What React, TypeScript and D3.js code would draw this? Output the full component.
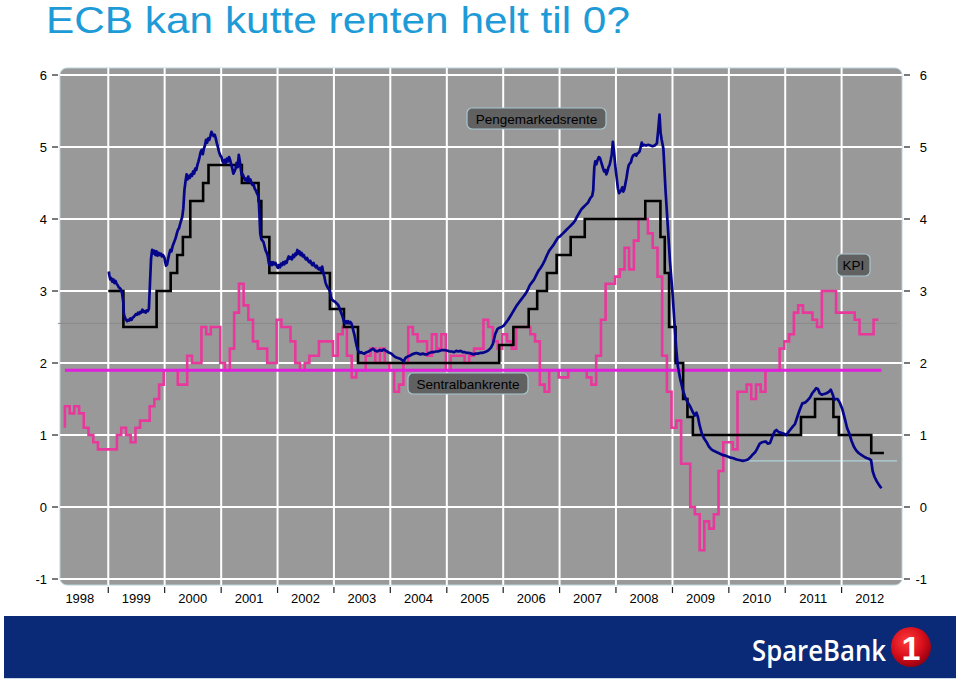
import React from "react";
import * as d3 from "d3";

const W = 960;
const H = 681;

// ---------- data ----------
const yTicks = [-1, 0, 1, 2, 3, 4, 5, 6];
const yearLabels = [1998, 1999, 2000, 2001, 2002, 2003, 2004, 2005, 2006, 2007, 2008, 2009, 2010, 2011, 2012];
const yearLines = [1999, 2000, 2001, 2002, 2003, 2004, 2005, 2006, 2007, 2008, 2009, 2010, 2011, 2012];

// KPI (monthly, from March 1998 to August 2012)
const kpiStartYear = 1998;
const kpiStartMonth = 2; // March
const kpiValues = [
  1.1, 1.4, 1.3, 1.4, 1.3, 1.1, 1.0, 0.9, 0.8, 0.8,
  0.8, 0.8, 1.0, 1.1, 1.0, 0.9, 1.1, 1.2, 1.2, 1.4, 1.5, 1.7,
  1.9, 1.9, 1.9, 1.7, 1.7, 2.1, 2.0, 2.0, 2.5, 2.4, 2.5, 2.5,
  2.0, 1.9, 2.2, 2.7, 3.1, 2.8, 2.6, 2.3, 2.2, 2.2, 2.0, 2.0,
  2.6, 2.5, 2.5, 2.3, 2.0, 1.9, 2.0, 2.1, 2.1, 2.3, 2.3, 2.3,
  2.1, 2.4, 2.5, 2.1, 1.8, 1.9, 1.9, 2.1, 2.2, 2.0, 2.2, 2.0,
  1.9, 1.6, 1.7, 2.0, 2.5, 2.4, 2.3, 2.3, 2.1, 2.4, 2.2, 2.4,
  1.9, 2.1, 2.1, 2.1, 2.0, 2.1, 2.2, 2.2, 2.6, 2.5, 2.3, 2.2,
  2.4, 2.3, 2.2, 2.5, 2.5, 2.5, 2.4, 2.3, 1.7, 1.6, 1.9, 1.9,
  1.8, 1.8, 1.9, 1.9, 1.9, 1.9, 1.8, 1.7, 2.1, 2.6, 3.1, 3.1,
  3.2, 3.3, 3.6, 3.3, 3.7, 4.0, 4.0, 3.8, 3.6, 3.2, 2.1, 1.6,
  1.1, 1.2, 0.6, 0.6, 0.0, -0.1, -0.6, -0.2, -0.3, -0.1, 0.5, 0.9,
  0.9, 0.8, 1.6, 1.6, 1.7, 1.5, 1.7, 1.6, 1.9, 1.9, 1.9, 2.2,
  2.3, 2.4, 2.7, 2.8, 2.7, 2.7, 2.6, 2.5, 3.0, 3.0, 3.0, 2.7,
  2.7, 2.7, 2.7, 2.6, 2.4, 2.4, 2.4, 2.6,
];

// Sentralbankrente (date of change, new level)
const policyRate: [string, number][] = [
  ["1999-01-01", 3.0], ["1999-04-09", 2.5], ["1999-11-10", 3.0], ["2000-02-09", 3.25],
  ["2000-03-22", 3.5], ["2000-04-28", 3.75], ["2000-06-15", 4.25], ["2000-09-06", 4.5],
  ["2000-10-11", 4.75], ["2001-05-15", 4.5], ["2001-08-31", 4.25], ["2001-09-18", 3.75],
  ["2001-11-09", 3.25], ["2002-12-06", 2.75], ["2003-03-07", 2.5], ["2003-06-06", 2.0],
  ["2005-12-06", 2.25], ["2006-03-08", 2.5], ["2006-06-15", 2.75], ["2006-08-09", 3.0],
  ["2006-10-11", 3.25], ["2006-12-13", 3.5], ["2007-03-14", 3.75], ["2007-06-13", 4.0],
  ["2008-07-09", 4.25], ["2008-10-15", 3.75], ["2008-11-12", 3.25], ["2008-12-10", 2.5],
  ["2009-01-21", 2.0], ["2009-03-11", 1.5], ["2009-04-08", 1.25], ["2009-05-13", 1.0],
  ["2011-04-13", 1.25], ["2011-07-13", 1.5], ["2011-11-09", 1.25], ["2011-12-14", 1.0],
  ["2012-07-11", 0.75], ["2012-10-01", 0.75],
];

// Pengemarkedsrente
const moneyMarket: [string, number][] = [
  ["1999-01-04", 3.27], ["1999-01-08", 3.22], ["1999-01-14", 3.16], ["1999-01-20", 3.18], ["1999-01-27", 3.13],
  ["1999-02-03", 3.16], ["1999-02-10", 3.11], ["1999-02-17", 3.14], ["1999-02-24", 3.10], ["1999-03-03", 3.08],
  ["1999-03-10", 3.05], ["1999-03-17", 3.04], ["1999-03-24", 3.02], ["1999-03-31", 2.97], ["1999-04-08", 2.85],
  ["1999-04-12", 2.68], ["1999-04-19", 2.63], ["1999-04-26", 2.60], ["1999-05-03", 2.58], ["1999-05-10", 2.60],
  ["1999-05-17", 2.59], ["1999-05-24", 2.62], ["1999-06-01", 2.60], ["1999-06-08", 2.63], ["1999-06-15", 2.64],
  ["1999-06-22", 2.66], ["1999-06-29", 2.68], ["1999-07-06", 2.67], ["1999-07-13", 2.70], ["1999-07-20", 2.68],
  ["1999-07-27", 2.71], ["1999-08-03", 2.70], ["1999-08-10", 2.74], ["1999-08-17", 2.71], ["1999-08-24", 2.72],
  ["1999-08-31", 2.70], ["1999-09-07", 2.73], ["1999-09-14", 2.72], ["1999-09-21", 2.75], ["1999-09-28", 3.10],
  ["1999-10-05", 3.45], ["1999-10-12", 3.57], ["1999-10-19", 3.52], ["1999-10-26", 3.56], ["1999-11-02", 3.50],
  ["1999-11-09", 3.55], ["1999-11-16", 3.49], ["1999-11-23", 3.53], ["1999-11-30", 3.50], ["1999-12-07", 3.52],
  ["1999-12-14", 3.48], ["1999-12-21", 3.50], ["1999-12-31", 3.46],
  ["2000-01-05", 3.40], ["2000-01-10", 3.35], ["2000-01-17", 3.37], ["2000-01-24", 3.45], ["2000-01-31", 3.52],
  ["2000-02-07", 3.57], ["2000-02-14", 3.55], ["2000-02-21", 3.62], ["2000-02-28", 3.66], ["2000-03-06", 3.70],
  ["2000-03-13", 3.74], ["2000-03-20", 3.80], ["2000-03-27", 3.85], ["2000-04-03", 3.87], ["2000-04-10", 3.93],
  ["2000-04-17", 3.98], ["2000-04-24", 4.03], ["2000-05-01", 4.15], ["2000-05-08", 4.40], ["2000-05-15", 4.52],
  ["2000-05-22", 4.62], ["2000-05-29", 4.55], ["2000-06-05", 4.60], ["2000-06-12", 4.57], ["2000-06-19", 4.62],
  ["2000-06-26", 4.60], ["2000-07-03", 4.66], ["2000-07-10", 4.63], ["2000-07-17", 4.70], ["2000-07-24", 4.68],
  ["2000-07-31", 4.75], ["2000-08-07", 4.80], ["2000-08-14", 4.86], ["2000-08-21", 4.93], ["2000-08-28", 4.96],
  ["2000-09-04", 4.90], ["2000-09-11", 4.98], ["2000-09-18", 5.02], ["2000-09-25", 5.10], ["2000-10-02", 5.06],
  ["2000-10-09", 5.12], ["2000-10-16", 5.10], ["2000-10-23", 5.15], ["2000-10-30", 5.21], ["2000-11-06", 5.18],
  ["2000-11-13", 5.15], ["2000-11-20", 5.17], ["2000-11-27", 5.12], ["2000-12-04", 5.05], ["2000-12-11", 5.00],
  ["2000-12-18", 4.93], ["2000-12-27", 4.88],
  ["2001-01-03", 4.86], ["2001-01-10", 4.80], ["2001-01-17", 4.78], ["2001-01-24", 4.82], ["2001-01-31", 4.78],
  ["2001-02-07", 4.84], ["2001-02-14", 4.80], ["2001-02-21", 4.86], ["2001-02-28", 4.82], ["2001-03-07", 4.76],
  ["2001-03-14", 4.70], ["2001-03-21", 4.63], ["2001-03-28", 4.66], ["2001-04-04", 4.70], ["2001-04-11", 4.78],
  ["2001-04-18", 4.72], ["2001-04-25", 4.89], ["2001-05-02", 4.80], ["2001-05-09", 4.68], ["2001-05-14", 4.61],
  ["2001-05-21", 4.62], ["2001-05-28", 4.58], ["2001-06-04", 4.54], ["2001-06-11", 4.56], ["2001-06-18", 4.52],
  ["2001-06-25", 4.59], ["2001-07-02", 4.52], ["2001-07-09", 4.55], ["2001-07-16", 4.50], ["2001-07-23", 4.47],
  ["2001-07-30", 4.48], ["2001-08-06", 4.42], ["2001-08-13", 4.40], ["2001-08-20", 4.36], ["2001-08-27", 4.33],
  ["2001-09-01", 4.28], ["2001-09-05", 4.10], ["2001-09-11", 3.80], ["2001-09-18", 3.72], ["2001-09-25", 3.70],
  ["2001-10-02", 3.68], ["2001-10-09", 3.62], ["2001-10-16", 3.56], ["2001-10-23", 3.53], ["2001-10-30", 3.48],
  ["2001-11-06", 3.38], ["2001-11-13", 3.36], ["2001-11-20", 3.40], ["2001-11-27", 3.36], ["2001-12-04", 3.40],
  ["2001-12-11", 3.37], ["2001-12-18", 3.39], ["2001-12-27", 3.35],
  ["2002-01-03", 3.32], ["2002-01-10", 3.36], ["2002-01-17", 3.33], ["2002-01-24", 3.38], ["2002-01-31", 3.36],
  ["2002-02-07", 3.40], ["2002-02-14", 3.37], ["2002-02-21", 3.41], ["2002-02-28", 3.39], ["2002-03-07", 3.44],
  ["2002-03-14", 3.48], ["2002-03-21", 3.45], ["2002-03-28", 3.47], ["2002-04-04", 3.44], ["2002-04-11", 3.50],
  ["2002-04-18", 3.47], ["2002-04-25", 3.52], ["2002-05-02", 3.50], ["2002-05-09", 3.57], ["2002-05-16", 3.52],
  ["2002-05-23", 3.55], ["2002-05-30", 3.50], ["2002-06-06", 3.53], ["2002-06-13", 3.48], ["2002-06-20", 3.50],
  ["2002-06-27", 3.46], ["2002-07-04", 3.44], ["2002-07-11", 3.46], ["2002-07-18", 3.42], ["2002-07-25", 3.40],
  ["2002-08-01", 3.42], ["2002-08-08", 3.38], ["2002-08-15", 3.36], ["2002-08-22", 3.39], ["2002-08-29", 3.35],
  ["2002-09-05", 3.33], ["2002-09-12", 3.35], ["2002-09-19", 3.31], ["2002-09-26", 3.30], ["2002-10-03", 3.32],
  ["2002-10-10", 3.28], ["2002-10-17", 3.34], ["2002-10-24", 3.25], ["2002-10-31", 3.20], ["2002-11-07", 3.12],
  ["2002-11-14", 3.08], ["2002-11-21", 3.05], ["2002-11-28", 3.03], ["2002-12-05", 3.00], ["2002-12-12", 2.92],
  ["2002-12-19", 2.88], ["2002-12-30", 2.86],
  ["2003-01-09", 2.85], ["2003-01-16", 2.83], ["2003-01-23", 2.82], ["2003-01-30", 2.80], ["2003-02-06", 2.76],
  ["2003-02-13", 2.72], ["2003-02-20", 2.68], ["2003-02-27", 2.64], ["2003-03-06", 2.58], ["2003-03-13", 2.55],
  ["2003-03-20", 2.58], ["2003-03-27", 2.55], ["2003-04-03", 2.58], ["2003-04-10", 2.55], ["2003-04-17", 2.57],
  ["2003-04-24", 2.55], ["2003-05-01", 2.50], ["2003-05-08", 2.44], ["2003-05-15", 2.38], ["2003-05-22", 2.30],
  ["2003-05-29", 2.23], ["2003-06-05", 2.18], ["2003-06-12", 2.15], ["2003-06-19", 2.14], ["2003-06-26", 2.15],
  ["2003-07-03", 2.14], ["2003-07-17", 2.13], ["2003-07-31", 2.15], ["2003-08-14", 2.16], ["2003-08-28", 2.18],
  ["2003-09-11", 2.20], ["2003-09-25", 2.17], ["2003-10-09", 2.16], ["2003-10-23", 2.18], ["2003-11-06", 2.17],
  ["2003-11-20", 2.19], ["2003-12-04", 2.17], ["2003-12-18", 2.15],
  ["2004-01-08", 2.13], ["2004-01-22", 2.10], ["2004-02-05", 2.08], ["2004-02-19", 2.07], ["2004-03-04", 2.06],
  ["2004-03-18", 2.04], ["2004-03-28", 2.02], ["2004-04-08", 2.07], ["2004-04-22", 2.09], ["2004-05-06", 2.10],
  ["2004-05-20", 2.12], ["2004-06-03", 2.13], ["2004-06-17", 2.14], ["2004-07-01", 2.13], ["2004-07-15", 2.12],
  ["2004-07-29", 2.13], ["2004-08-12", 2.12], ["2004-08-26", 2.12], ["2004-09-09", 2.14], ["2004-09-23", 2.15],
  ["2004-10-07", 2.15], ["2004-10-21", 2.16], ["2004-11-04", 2.16], ["2004-11-18", 2.17], ["2004-12-02", 2.18],
  ["2004-12-16", 2.18],
  ["2005-01-06", 2.17], ["2005-01-20", 2.16], ["2005-02-03", 2.16], ["2005-02-17", 2.15], ["2005-03-03", 2.17],
  ["2005-03-17", 2.16], ["2005-03-31", 2.17], ["2005-04-14", 2.15], ["2005-04-28", 2.15], ["2005-05-12", 2.14],
  ["2005-05-26", 2.14], ["2005-06-09", 2.13], ["2005-06-23", 2.12], ["2005-07-07", 2.13], ["2005-07-21", 2.13],
  ["2005-08-04", 2.14], ["2005-08-18", 2.14], ["2005-09-01", 2.15], ["2005-09-15", 2.16], ["2005-09-29", 2.18],
  ["2005-10-13", 2.21], ["2005-10-27", 2.27], ["2005-11-10", 2.40], ["2005-11-24", 2.47], ["2005-12-08", 2.49],
  ["2005-12-22", 2.50],
  ["2006-01-05", 2.52], ["2006-01-19", 2.56], ["2006-02-02", 2.60], ["2006-02-16", 2.65], ["2006-03-02", 2.70],
  ["2006-03-16", 2.75], ["2006-03-30", 2.80], ["2006-04-13", 2.84], ["2006-04-27", 2.88], ["2006-05-11", 2.92],
  ["2006-05-25", 2.96], ["2006-06-08", 3.01], ["2006-06-22", 3.08], ["2006-07-06", 3.12], ["2006-07-20", 3.16],
  ["2006-08-03", 3.22], ["2006-08-17", 3.28], ["2006-08-31", 3.32], ["2006-09-14", 3.37], ["2006-09-28", 3.43],
  ["2006-10-12", 3.50], ["2006-10-26", 3.56], ["2006-11-09", 3.60], ["2006-11-23", 3.64], ["2006-12-07", 3.69],
  ["2006-12-21", 3.74],
  ["2007-01-04", 3.76], ["2007-01-18", 3.79], ["2007-02-01", 3.82], ["2007-02-15", 3.85], ["2007-03-01", 3.88],
  ["2007-03-15", 3.91], ["2007-03-29", 3.94], ["2007-04-12", 3.98], ["2007-04-26", 4.04], ["2007-05-10", 4.09],
  ["2007-05-24", 4.14], ["2007-06-07", 4.17], ["2007-06-21", 4.20], ["2007-07-05", 4.23], ["2007-07-19", 4.29],
  ["2007-07-31", 4.32], ["2007-08-07", 4.40], ["2007-08-10", 4.55], ["2007-08-14", 4.72], ["2007-08-20", 4.80],
  ["2007-08-27", 4.76], ["2007-09-04", 4.82], ["2007-09-12", 4.86], ["2007-09-19", 4.85], ["2007-09-26", 4.80],
  ["2007-10-03", 4.75], ["2007-10-10", 4.70], ["2007-10-17", 4.66], ["2007-10-24", 4.68], ["2007-10-31", 4.62],
  ["2007-11-07", 4.66], ["2007-11-14", 4.72], ["2007-11-21", 4.75], ["2007-11-28", 4.82], ["2007-12-05", 4.90],
  ["2007-12-12", 5.07], ["2007-12-19", 4.95], ["2007-12-27", 4.75],
  ["2008-01-07", 4.55], ["2008-01-14", 4.42], ["2008-01-21", 4.36], ["2008-01-28", 4.38], ["2008-02-04", 4.40],
  ["2008-02-11", 4.44], ["2008-02-18", 4.38], ["2008-02-25", 4.42], ["2008-03-03", 4.50], ["2008-03-10", 4.58],
  ["2008-03-17", 4.68], ["2008-03-24", 4.75], ["2008-03-31", 4.77], ["2008-04-07", 4.79], ["2008-04-14", 4.85],
  ["2008-04-21", 4.88], ["2008-04-28", 4.89], ["2008-05-05", 4.90], ["2008-05-12", 4.88], ["2008-05-19", 4.91],
  ["2008-05-26", 4.92], ["2008-06-02", 4.94], ["2008-06-09", 5.00], ["2008-06-16", 5.06], ["2008-06-23", 5.02],
  ["2008-06-30", 5.03], ["2008-07-14", 5.02], ["2008-07-28", 5.03], ["2008-08-11", 5.02], ["2008-08-25", 5.01],
  ["2008-09-08", 5.02], ["2008-09-22", 5.05], ["2008-09-30", 5.22], ["2008-10-09", 5.45], ["2008-10-16", 5.20],
  ["2008-10-23", 5.10], ["2008-11-03", 4.98], ["2008-11-17", 4.40], ["2008-12-02", 3.89], ["2008-12-16", 3.40],
  ["2009-01-02", 2.95], ["2009-01-14", 2.55], ["2009-01-26", 2.18], ["2009-02-05", 1.95], ["2009-02-20", 1.78],
  ["2009-03-10", 1.62], ["2009-03-25", 1.52], ["2009-04-10", 1.45], ["2009-04-25", 1.40], ["2009-05-10", 1.33],
  ["2009-05-25", 1.27], ["2009-06-05", 1.31], ["2009-06-15", 1.25], ["2009-06-25", 1.14], ["2009-07-10", 1.02],
  ["2009-07-25", 0.95], ["2009-08-10", 0.90], ["2009-08-25", 0.84], ["2009-09-10", 0.80], ["2009-09-25", 0.78],
  ["2009-10-15", 0.76], ["2009-11-05", 0.74], ["2009-11-25", 0.72], ["2009-12-15", 0.71],
  ["2010-01-05", 0.69], ["2010-01-26", 0.68], ["2010-02-20", 0.66], ["2010-03-15", 0.65], ["2010-04-01", 0.64],
  ["2010-04-20", 0.65], ["2010-05-05", 0.66], ["2010-05-20", 0.69], ["2010-06-05", 0.73], ["2010-06-20", 0.76],
  ["2010-07-01", 0.80], ["2010-07-20", 0.88], ["2010-08-05", 0.90], ["2010-08-28", 0.91], ["2010-09-10", 0.88],
  ["2010-09-25", 0.89], ["2010-10-10", 0.98], ["2010-10-25", 1.05], ["2010-11-05", 1.07], ["2010-11-20", 1.04],
  ["2010-12-05", 1.03], ["2010-12-20", 1.02],
  ["2011-01-08", 1.00], ["2011-01-25", 1.05], ["2011-02-05", 1.08], ["2011-02-20", 1.12], ["2011-03-05", 1.15],
  ["2011-03-20", 1.25], ["2011-04-05", 1.35], ["2011-04-22", 1.44], ["2011-05-10", 1.45], ["2011-05-25", 1.48],
  ["2011-06-10", 1.52], ["2011-06-25", 1.58], ["2011-07-10", 1.62], ["2011-07-20", 1.65], ["2011-08-01", 1.64],
  ["2011-08-12", 1.58], ["2011-08-25", 1.56], ["2011-09-10", 1.57], ["2011-09-25", 1.58], ["2011-10-10", 1.60],
  ["2011-10-23", 1.63], ["2011-11-05", 1.56], ["2011-11-14", 1.49], ["2011-11-25", 1.50], ["2011-12-06", 1.50],
  ["2011-12-20", 1.45],
  ["2012-01-07", 1.35], ["2012-01-25", 1.20], ["2012-02-05", 1.10], ["2012-02-20", 1.02], ["2012-03-05", 0.92],
  ["2012-03-20", 0.84], ["2012-04-03", 0.79], ["2012-04-20", 0.75], ["2012-05-10", 0.72], ["2012-05-25", 0.70],
  ["2012-06-10", 0.68], ["2012-06-25", 0.67], ["2012-07-10", 0.65], ["2012-07-20", 0.50], ["2012-08-01", 0.42],
  ["2012-08-15", 0.36], ["2012-09-01", 0.30], ["2012-09-15", 0.26],
];

// horizontal target line
const targetLine: [string, number][] = [["1998-03-26", 1.9], ["2012-09-15", 1.9]];
// faint reference lines seen in the picture
const faintLine: [string, number][] = [["1998-02-10", 2.55], ["2012-12-25", 2.55]];
const cyanLine: [string, number][] = [["2010-04-01", 0.64], ["2012-12-25", 0.64]];

// ---------- component ----------
const parse = d3.timeParse("%Y-%m-%d");

export default function App() {
  const x = d3
    .scaleTime()
    .domain([new Date(1998, 0, 1), new Date(2013, 0, 1)])
    .range([51.9, 51.9 + 15 * 56.415]);
  const y = d3.scaleLinear().domain([-1, 6]).range([579, 75]);

  const plotL = 60, plotR = 902, plotT = 68, plotB = 585;

  const kpiPts: [Date, number][] = kpiValues.map((v, k) => [new Date(kpiStartYear, kpiStartMonth + k, 26), v]);
  const toPts = (arr: [string, number][]) => arr.map(([d, v]) => [parse(d) as Date, v] as [Date, number]);

  const lineLin = d3.line<[Date, number]>().x((d) => x(d[0])).y((d) => y(d[1]));
  const lineStepBefore = d3.line<[Date, number]>().x((d) => x(d[0])).y((d) => y(d[1])).curve(d3.curveStepBefore);
  const lineStepAfter = d3.line<[Date, number]>().x((d) => x(d[0])).y((d) => y(d[1])).curve(d3.curveStepAfter);

  const font = "'Liberation Sans', Arial, Helvetica, sans-serif";

  const Label = ({ x0, y0, w, h, text }: { x0: number; y0: number; w: number; h: number; text: string }) => (
    <g>
      <rect x={x0} y={y0} width={w} height={h} rx={5} ry={5} fill="#616161" stroke="#a9c7cf" strokeWidth={1.2} />
      <text x={x0 + w / 2} y={y0 + h / 2 + 5} textAnchor="middle" fontFamily={font} fontSize={13.5} fill="#000">
        {text}
      </text>
    </g>
  );

  return (
    <svg width={W} height={H} style={{ position: "absolute", left: 0, top: 0, background: "#fff" }}>
      <rect x={0} y={0} width={W} height={H} fill="#fff" />
      {/* title */}
      <text x={46} y={33} fontFamily={font} fontSize={37} fill="#1e9bd7" textLength={584} lengthAdjust="spacingAndGlyphs">
        ECB kan kutte renten helt til 0?
      </text>

      {/* plot background */}
      <rect x={plotL} y={plotT} width={plotR - plotL} height={plotB - plotT} rx={7} ry={7} fill="#999999" stroke="#b9d3da" strokeWidth={1} />

      {/* faint lines */}
      <path d={lineLin(toPts(faintLine)) || ""} stroke="#8a8a8a" strokeWidth={1} fill="none" />
      <path d={lineLin(toPts(cyanLine)) || ""} stroke="#b4e2ea" strokeWidth={1} fill="none" />

      {/* grid */}
      {yTicks.map((t) => (
        <line key={"gy" + t} x1={plotL} x2={plotR} y1={y(t)} y2={y(t)} stroke="#fff" strokeWidth={2} />
      ))}
      {yearLines.map((yr) => (
        <line key={"gx" + yr} x1={x(new Date(yr, 0, 1))} x2={x(new Date(yr, 0, 1))} y1={plotT} y2={plotB} stroke="#fff" strokeWidth={2} />
      ))}

      {/* axes ticks & labels */}
      {yTicks.map((t) => (
        <g key={"yt" + t}>
          <line x1={52} x2={58} y1={y(t)} y2={y(t)} stroke="#222" strokeWidth={1.2} />
          <text x={47} y={y(t) + 4.5} textAnchor="end" fontFamily={font} fontSize={13} fill="#000">
            {t}
          </text>
          <line x1={904} x2={910} y1={y(t)} y2={y(t)} stroke="#222" strokeWidth={1.2} />
          <text x={927} y={y(t) + 4.5} textAnchor="end" fontFamily={font} fontSize={13} fill="#000">
            {t}
          </text>
        </g>
      ))}
      {yearLines.map((yr) => (
        <line key={"xt" + yr} x1={x(new Date(yr, 0, 1))} x2={x(new Date(yr, 0, 1))} y1={587} y2={593} stroke="#222" strokeWidth={1.2} />
      ))}
      {yearLabels.map((yr) => (
        <text key={"xl" + yr} x={x(new Date(yr, 6, 1))} y={603} textAnchor="middle" fontFamily={font} fontSize={13} fill="#000">
          {yr}
        </text>
      ))}

      {/* series */}
      <path d={lineStepBefore(kpiPts) || ""} stroke="#e8389c" strokeWidth={2.6} fill="none" strokeLinejoin="miter" />
      <path d={lineLin(toPts(targetLine)) || ""} stroke="#e21fdc" strokeWidth={3} fill="none" />
      <path d={lineStepAfter(toPts(policyRate)) || ""} stroke="#000" strokeWidth={2.6} fill="none" />
      <path d={lineLin(toPts(moneyMarket)) || ""} stroke="#05058a" strokeWidth={2.7} fill="none" strokeLinejoin="round" />

      {/* labels */}
      <Label x0={467} y0={108} w={139} h={21} text="Pengemarkedsrente" />
      <Label x0={837} y0={254} w={33} h={22} text="KPI" />
      <Label x0={408} y0={373} w={120} h={21} text="Sentralbankrente" />

      {/* footer */}
      <rect x={4} y={616} width={952} height={62} fill="#0a2a78" />
      <line x1={4} x2={956} y1={678.5} y2={678.5} stroke="#c9dbe6" strokeWidth={1} />
      <text x={752} y={661} fontFamily="'Open Sans', 'Liberation Sans', sans-serif" fontSize={28} fontWeight={600} fill="#fff" textLength={134} lengthAdjust="spacingAndGlyphs">
        SpareBank
      </text>
      <defs>
        <radialGradient id="redball" cx="40%" cy="35%" r="70%">
          <stop offset="0%" stopColor="#ff3b3b" />
          <stop offset="60%" stopColor="#d50d1a" />
          <stop offset="100%" stopColor="#8a0010" />
        </radialGradient>
      </defs>
      <circle cx={911} cy={647} r={20} fill="url(#redball)" />
      <text x={911} y={660} textAnchor="middle" fontFamily={font} fontSize={34} fontWeight={700} fill="#fff">
        1
      </text>
    </svg>
  );
}
